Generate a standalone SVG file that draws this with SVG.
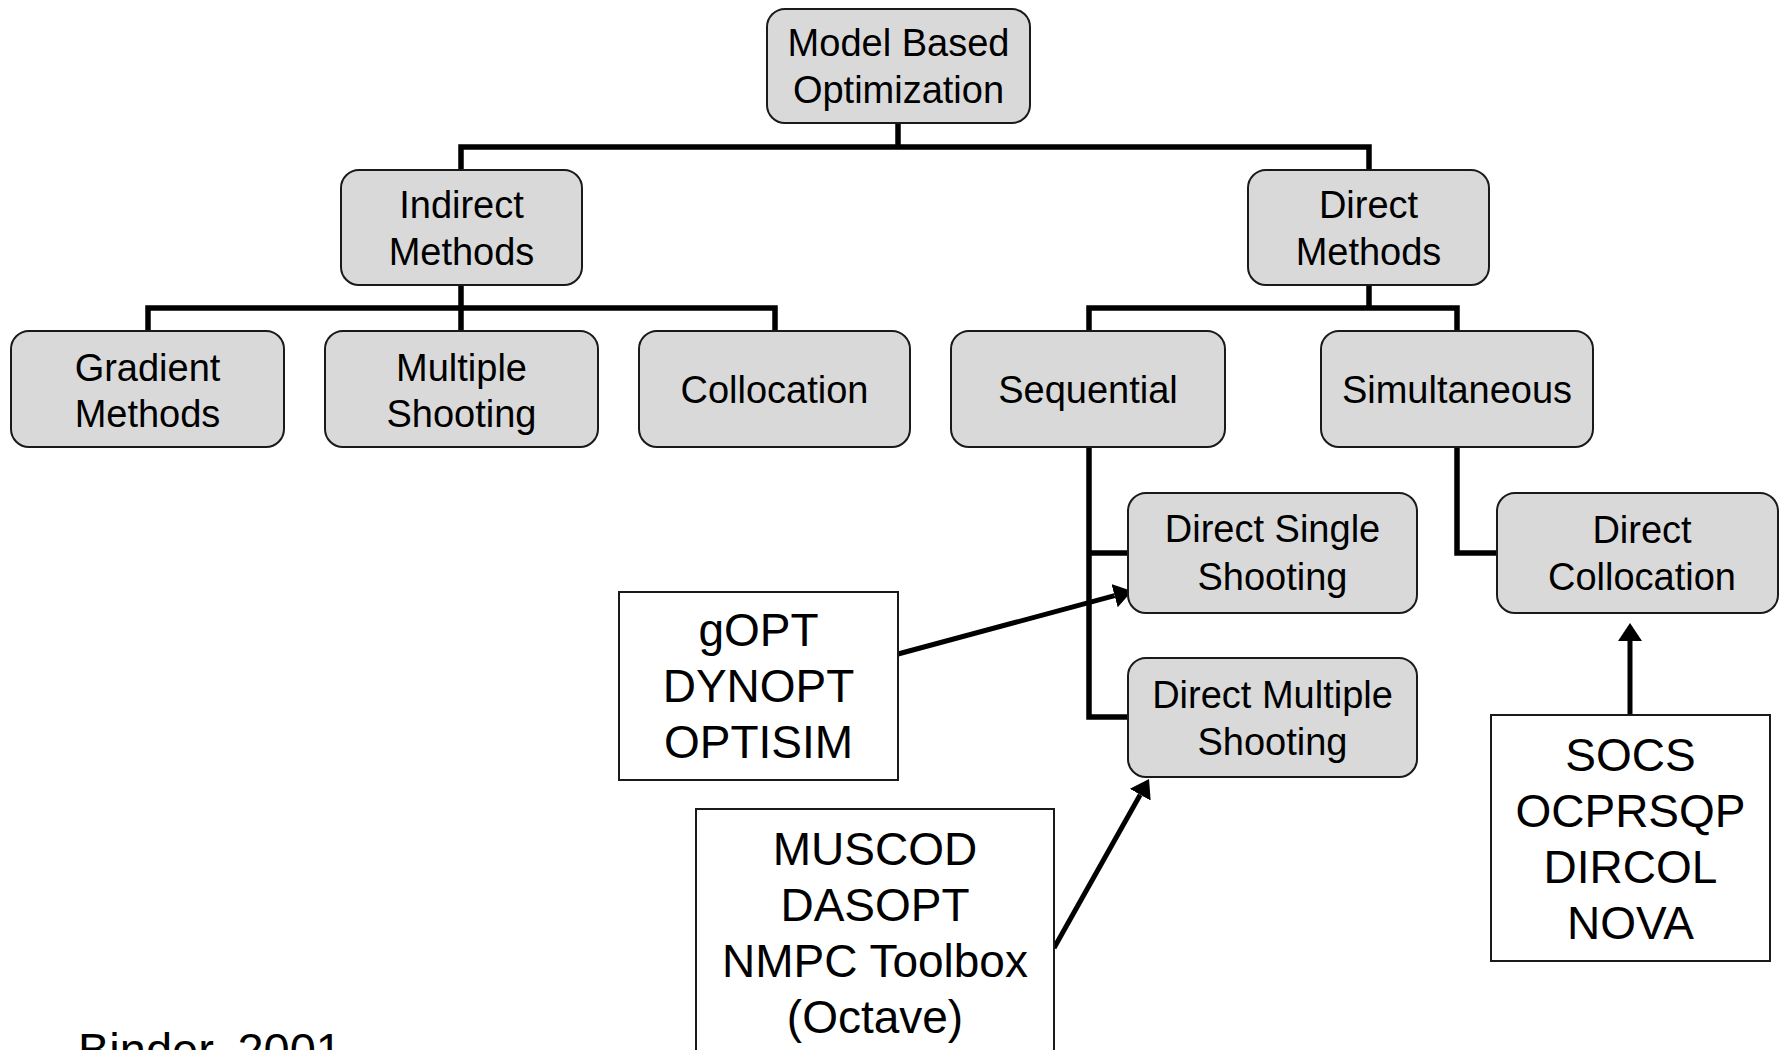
<svg xmlns="http://www.w3.org/2000/svg" width="1780" height="1050" viewBox="0 0 1780 1050">
  <style>
    .node rect { fill: #d9d9d9; stroke: #1a1a1a; stroke-width: 2; }
    .tool rect { fill: #ffffff; stroke: #1a1a1a; stroke-width: 2; }
    text { font-family: "Liberation Sans", Arial, sans-serif; fill: #000; text-anchor: middle; }
    .node text { font-size: 38px; }
    .tool text { font-size: 46px; }
    .credit { font-size: 47px; text-anchor: start; }
    .tree { fill: none; stroke: #000; stroke-width: 5.5; stroke-linejoin: miter; stroke-linecap: square; }
    .arrow { fill: none; stroke: #000; stroke-width: 5; marker-end: url(#head); }
  </style>
  <defs>
    <marker id="head" viewBox="0 0 18 24" markerUnits="userSpaceOnUse" markerWidth="18" markerHeight="24" refX="0" refY="12" orient="auto">
      <path d="M0,0 L18,12 L0,24 z" fill="#000"/>
    </marker>
  </defs>

  <rect width="1780" height="1050" fill="#ffffff"/>

  <!-- tree lines and pointer arrows -->
  <g id="connectors">
    <path class="tree" d="M898,123 V147 M461,170 V147 H1369 V170"/>
    <path class="tree" d="M461,285 V308 M148,331 V308 H775 V331 M461,308 V331"/>
    <path class="tree" d="M1369,285 V308 M1089,331 V308 H1457 V331"/>
    <path class="tree" d="M1089,447 V717 H1128 M1089,553 H1128"/>
    <path class="tree" d="M1457,447 V553 H1497"/>
    <path class="arrow" d="M898,654 L1114.6,595.7"/>
    <path class="arrow" d="M1054,948 L1140.2,794.7"/>
    <path class="arrow" d="M1630,715 L1630,641"/>
  </g>

  <g id="model-based-optimization" class="node">
    <rect x="767" y="9" width="263" height="114" rx="18"/>
    <text x="898.5" y="56">Model Based</text>
    <text x="898.5" y="103">Optimization</text>
  </g>

  <g id="indirect-methods" class="node">
    <rect x="341" y="170" width="241" height="115" rx="18"/>
    <text x="461.5" y="218">Indirect</text>
    <text x="461.5" y="265">Methods</text>
  </g>

  <g id="direct-methods" class="node">
    <rect x="1248" y="170" width="241" height="115" rx="18"/>
    <text x="1368.5" y="218">Direct</text>
    <text x="1368.5" y="265">Methods</text>
  </g>

  <g id="gradient-methods" class="node">
    <rect x="11" y="331" width="273" height="116" rx="18"/>
    <text x="147.5" y="381">Gradient</text>
    <text x="147.5" y="427">Methods</text>
  </g>

  <g id="multiple-shooting" class="node">
    <rect x="325" y="331" width="273" height="116" rx="18"/>
    <text x="461.5" y="381">Multiple</text>
    <text x="461.5" y="427">Shooting</text>
  </g>

  <g id="collocation" class="node">
    <rect x="639" y="331" width="271" height="116" rx="18"/>
    <text x="774.5" y="403">Collocation</text>
  </g>

  <g id="sequential" class="node">
    <rect x="951" y="331" width="274" height="116" rx="18"/>
    <text x="1088" y="403">Sequential</text>
  </g>

  <g id="simultaneous" class="node">
    <rect x="1321" y="331" width="272" height="116" rx="18"/>
    <text x="1457" y="403">Simultaneous</text>
  </g>

  <g id="direct-single-shooting" class="node">
    <rect x="1128" y="493" width="289" height="120" rx="18"/>
    <text x="1272.5" y="542">Direct Single</text>
    <text x="1272.5" y="590">Shooting</text>
  </g>

  <g id="direct-multiple-shooting" class="node">
    <rect x="1128" y="658" width="289" height="119" rx="18"/>
    <text x="1272.5" y="708">Direct Multiple</text>
    <text x="1272.5" y="755">Shooting</text>
  </g>

  <g id="direct-collocation" class="node">
    <rect x="1497" y="493" width="281" height="120" rx="18"/>
    <text x="1642" y="543">Direct</text>
    <text x="1642" y="590">Collocation</text>
  </g>

  <g id="single-shooting-tools" class="tool">
    <rect x="619" y="592" width="279" height="188"/>
    <text x="758.5" y="646">gOPT</text>
    <text x="758.5" y="702">DYNOPT</text>
    <text x="758.5" y="758">OPTISIM</text>
  </g>

  <g id="multiple-shooting-tools" class="tool">
    <rect x="696" y="809" width="358" height="260"/>
    <text x="875" y="865">MUSCOD</text>
    <text x="875" y="921">DASOPT</text>
    <text x="875" y="977">NMPC Toolbox</text>
    <text x="875" y="1033">(Octave)</text>
  </g>

  <g id="collocation-tools" class="tool">
    <rect x="1491" y="715" width="279" height="246"/>
    <text x="1630.5" y="771">SOCS</text>
    <text x="1630.5" y="827">OCPRSQP</text>
    <text x="1630.5" y="883">DIRCOL</text>
    <text x="1630.5" y="939">NOVA</text>
  </g>

  <text class="credit" x="78" y="1066">Binder, 2001</text>
</svg>
